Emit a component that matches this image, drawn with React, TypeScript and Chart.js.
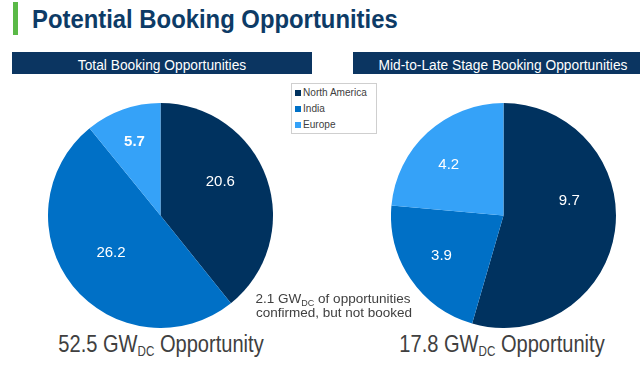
import React, { useEffect, useRef } from "react";
import { Chart, registerables } from "chart.js";

Chart.register(...registerables);

// ---- data ----
const regions = ["North America", "India", "Europe"];
const totalValues = [20.6, 26.2, 5.7];
const midLateValues = [9.7, 3.9, 4.2];
const confirmedNotBooked = 2.1;
const titleText = "Potential Booking Opportunities";
const leftHeader = "Total Booking Opportunities";
const rightHeader = "Mid-to-Late Stage Booking Opportunities";

// ---- style ----
const COLORS = ["#00325f", "#0070c6", "#35a2f8"];
const FONT = '"Liberation Sans", Arial, sans-serif';
const GRAY = "#404040";
const NAVY = "#0b3561";

const sum = (a: number[]) => a.reduce((s, v) => s + v, 0);

const sliceLabels = {
  id: "sliceLabels",
  afterDatasetsDraw(chart: any, _args: any, opts: any) {
    const ctx = chart.ctx;
    const meta = chart.getDatasetMeta(0);
    const data = chart.data.datasets[0].data as number[];
    ctx.save();
    ctx.fillStyle = "#ffffff";
    ctx.textAlign = "center";
    ctx.textBaseline = "middle";
    meta.data.forEach((arc: any, i: number) => {
      const p = arc.getProps(["x", "y", "startAngle", "endAngle", "outerRadius"], true);
      const mid = (p.startAngle + p.endAngle) / 2 + ((opts.shift?.[i] || 0) * Math.PI) / 180;
      const r = p.outerRadius * (opts.radius?.[i] ?? 0.62);
      ctx.font = `${opts.weight?.[i] || 400} 15px ${FONT}`;
      ctx.fillText(data[i].toFixed(1), p.x + Math.cos(mid) * r, p.y + Math.sin(mid) * r);
    });
    ctx.restore();
  },
};

function Pie(props: {
  values: number[];
  left: number;
  top: number;
  size: number;
  shift: number[];
  radius: number[];
  weight: number[];
}) {
  const ref = useRef<HTMLCanvasElement>(null);
  useEffect(() => {
    const chart = new Chart(ref.current!, {
      type: "pie",
      data: {
        labels: regions,
        datasets: [{ data: props.values, backgroundColor: COLORS, borderWidth: 0 }],
      },
      options: {
        responsive: false,
        animation: false,
        layout: { padding: 0 },
        plugins: {
          legend: { display: false },
          tooltip: { enabled: false },
          sliceLabels: { shift: props.shift, radius: props.radius, weight: props.weight },
        } as any,
      },
      plugins: [sliceLabels],
    });
    return () => chart.destroy();
  }, []);
  return (
    <canvas
      ref={ref}
      width={props.size}
      height={props.size}
      style={{ position: "absolute", left: props.left, top: props.top, width: props.size, height: props.size }}
    />
  );
}

function Txt(props: {
  x: number;
  baseline: number;
  size: number;
  weight?: number;
  color?: string;
  scale?: number;
  anchor?: "center" | "left";
  children: React.ReactNode;
}) {
  const { x, baseline, size, weight = 400, color = GRAY, scale = 1, anchor = "center" } = props;
  const top = baseline - 0.8465 * size;
  const center = anchor === "center";
  return (
    <div
      style={{
        position: "absolute",
        left: x,
        top,
        fontFamily: FONT,
        fontSize: size,
        lineHeight: size + "px",
        fontWeight: weight,
        color,
        whiteSpace: "nowrap",
        transform: center ? `translateX(-50%) scaleX(${scale})` : `scaleX(${scale})`,
        transformOrigin: center ? "50% 50%" : "0 50%",
      }}
    >
      {props.children}
    </div>
  );
}

function Sub(props: { size: number; drop: number; children: React.ReactNode }) {
  return <span style={{ fontSize: props.size, position: "relative", top: props.drop }}>{props.children}</span>;
}

export default function App() {
  return (
    <div
      style={{
        position: "absolute",
        left: 0,
        top: 0,
        width: 640,
        height: 366,
        background: "#ffffff",
        overflow: "hidden",
      }}
    >
      {/* title */}
      <div style={{ position: "absolute", left: 13, top: 2, width: 5, height: 33, background: "#5ab947" }} />
      <Txt x={32} baseline={28} size={26.5} weight={700} color="#0d3b66" scale={0.9} anchor="left">
        {titleText}
      </Txt>

      {/* headers */}
      <div style={{ position: "absolute", left: 12, top: 52, width: 300, height: 22, background: NAVY }} />
      <div style={{ position: "absolute", left: 353, top: 52, width: 300, height: 22, background: NAVY }} />
      <Txt x={162} baseline={70} size={15.4} color="#ffffff" scale={0.895}>
        {leftHeader}
      </Txt>
      <Txt x={503} baseline={70} size={15.4} color="#ffffff" scale={0.895}>
        {rightHeader}
      </Txt>

      {/* legend */}
      <div
        style={{
          position: "absolute",
          left: 291,
          top: 83,
          width: 84,
          height: 49,
          border: "1px solid #cfcfcf",
          background: "#fff",
        }}
      />
      {regions.map((r, i) => (
        <React.Fragment key={r}>
          <div
            style={{
              position: "absolute",
              left: 295,
              top: 89.5 + i * 16.3,
              width: 6,
              height: 6,
              background: COLORS[i],
            }}
          />
          <Txt x={303} baseline={96.5 + i * 16.3} size={10.4} anchor="left" scale={0.97}>
            {r}
          </Txt>
        </React.Fragment>
      ))}

      {/* pies */}
      <Pie
        values={totalValues}
        left={48}
        top={103}
        size={225}
        shift={[-10, 2, 0]}
        radius={[0.61, 0.55, 0.69]}
        weight={[400, 400, 700]}
      />
      <Pie
        values={midLateValues}
        left={391}
        top={103}
        size={225}
        shift={[-21, 1, -5]}
        radius={[0.6, 0.66, 0.66]}
        weight={[400, 400, 400]}
      />

      {/* annotation */}
      <Txt x={333} baseline={303.5} size={13.5}>
        {confirmedNotBooked.toFixed(1)} GW<Sub size={9} drop={3}>DC</Sub> of opportunities
      </Txt>
      <Txt x={334} baseline={317} size={13.5}>
        confirmed, but not booked
      </Txt>

      {/* totals */}
      <Txt x={161} baseline={352} size={24.2} scale={0.83}>
        {sum(totalValues).toFixed(1)} GW<Sub size={14} drop={4.5}>DC</Sub> Opportunity
      </Txt>
      <Txt x={501.5} baseline={352} size={24.2} scale={0.83}>
        {sum(midLateValues).toFixed(1)} GW<Sub size={14} drop={4.5}>DC</Sub> Opportunity
      </Txt>
    </div>
  );
}
